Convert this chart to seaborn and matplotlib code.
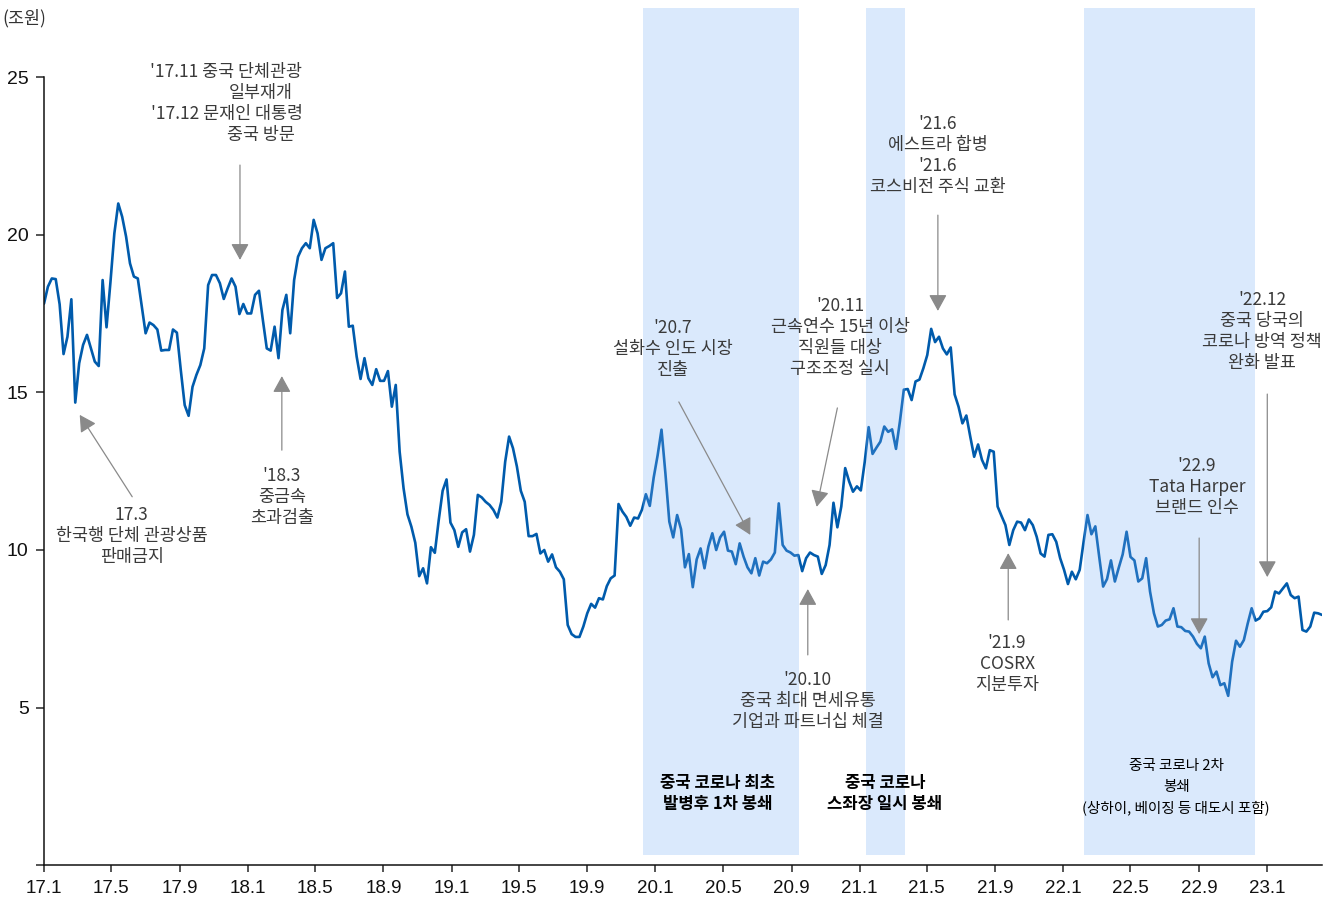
import matplotlib
matplotlib.use("Agg")
import matplotlib.pyplot as plt
import pandas as pd
import seaborn as sns

# Weekly series, 조원
values = [
    17.82, 18.36, 18.62, 18.60, 17.80, 16.22, 16.77, 17.96, 14.68, 15.93,
    16.51, 16.83, 16.40, 15.98, 15.84, 18.57, 17.07, 18.50, 20.05, 21.00,
    20.58, 19.95, 19.10, 18.68, 18.62, 17.75, 16.88, 17.22, 17.14, 17.00,
    16.33, 16.35, 16.35, 17.00, 16.90, 15.71, 14.60, 14.26, 15.18, 15.56,
    15.87, 16.40, 18.41, 18.73, 18.73, 18.47, 17.97, 18.31, 18.62, 18.36,
    17.49, 17.81, 17.51, 17.51, 18.10, 18.23, 17.30, 16.40, 16.33, 17.09,
    16.09, 17.62, 18.10, 16.88, 18.57, 19.31, 19.58, 19.74, 19.58, 20.48,
    20.05, 19.21, 19.58, 19.65, 19.74, 18.00, 18.15, 18.84, 17.09, 17.12,
    16.14, 15.43, 16.09, 15.45, 15.24, 15.74, 15.37, 15.37, 15.68, 14.55,
    15.24, 13.12, 11.96, 11.13, 10.74, 10.23, 9.17, 9.42, 8.94, 10.09,
    9.91, 10.95, 11.88, 12.24, 10.87, 10.63, 10.10, 10.56, 10.66, 9.95,
    10.48, 11.75, 11.67, 11.53, 11.43, 11.27, 11.03, 11.53, 12.80, 13.60,
    13.23, 12.65, 11.88, 11.53, 10.44, 10.44, 10.51, 9.89, 10.00, 9.63,
    9.86, 9.45, 9.31, 9.07, 7.62, 7.33, 7.24, 7.24, 7.57, 7.99,
    8.29, 8.17, 8.47, 8.43, 8.85, 9.10, 9.19, 11.46, 11.22, 11.05,
    10.77, 11.03, 11.00, 11.28, 11.77, 11.40, 12.30, 13.00, 13.82, 12.43,
    10.90, 10.40, 11.11, 10.66, 9.45, 9.87, 8.82, 9.70, 10.05, 9.42,
    10.11, 10.53, 10.00, 10.40, 10.58, 9.98, 9.95, 9.55, 10.21, 9.79,
    9.45, 9.26, 9.74, 9.19, 9.63, 9.58, 9.70, 9.92, 11.48, 10.16,
    9.98, 9.92, 9.82, 9.84, 9.33, 9.74, 9.92, 9.84, 9.79, 9.24,
    9.52, 10.16, 11.50, 10.72, 11.38, 12.60, 12.18, 11.85, 12.02, 11.89,
    12.80, 13.90, 13.05, 13.25, 13.44, 13.92, 13.75, 13.83, 13.21, 14.08,
    15.09, 15.11, 14.76, 15.35, 15.41, 15.77, 16.19, 17.02, 16.60, 16.77,
    16.40, 16.21, 16.43, 14.94, 14.55, 14.02, 14.27, 13.60, 12.96, 13.35,
    12.86, 12.59, 13.17, 13.12, 11.38, 11.08, 10.79, 10.16, 10.63, 10.90,
    10.87, 10.63, 10.97, 10.79, 10.42, 9.89, 9.79, 10.48, 10.50, 10.26,
    9.74, 9.37, 8.92, 9.31, 9.07, 9.37, 10.26, 11.11, 10.50, 10.75,
    9.78, 8.84, 9.08, 9.67, 9.00, 9.44, 9.86, 10.58, 9.78, 9.67,
    9.00, 9.10, 9.74, 8.68, 7.99, 7.57, 7.62, 7.76, 7.80, 8.15,
    7.57, 7.55, 7.43, 7.41, 7.25, 7.02, 6.88, 7.25, 6.40, 5.96,
    6.14, 5.71, 5.77, 5.37, 6.45, 7.12, 6.93, 7.14, 7.67, 8.15,
    7.76, 7.83, 8.04, 8.06, 8.18, 8.68, 8.62, 8.78, 8.94, 8.57,
    8.47, 8.52, 7.46, 7.41, 7.57, 8.01, 7.99, 7.94,
]
start_date = "2017-01-01"

x_tick_labels = ["17.1", "17.5", "17.9", "18.1", "18.5", "18.9", "19.1",
                 "19.5", "19.9", "20.1", "20.5", "20.9", "21.1", "21.5",
                 "21.9", "22.1", "22.5", "22.9", "23.1"]
y_ticks = [0, 5, 10, 15, 20, 25]

# Lockdown periods
band_starts = ["2019-12-10", "2021-01-12", "2022-02-07"]
band_ends = ["2020-09-15", "2021-03-23", "2022-12-10"]
band_texts = [
    ["중국 코로나 최초", "발병후 1차 봉쇄"],
    ["중국 코로나", "스좌장 일시 봉쇄"],
    ["중국 코로나 2차", "봉쇄", "(상하이, 베이징 등 대도시 포함)"],
]

# Event notes: text lines, arrow tail, arrow head
events = [
    (["'17.11 중국 단체관광", "일부재개", "'17.12 문재인 대통령", "중국 방문"],
     ("2017-12-18", 22.22), ("2017-12-18", 19.21)),
    (["17.3", "한국행 단체 관광상품", "판매금지"],
     ("2017-06-08", 11.69), ("2017-03-06", 14.29)),
    (["'18.3", "중금속", "초과검출"],
     ("2018-03-03", 13.17), ("2018-03-03", 15.52)),
    (["'20.7", "설화수 인도 시장", "진출"],
     ("2020-02-12", 14.70), ("2020-06-19", 10.48)),
    (["'20.11", "근속연수 15년 이상", "직원들 대상", "구조조정 실시"],
     ("2020-11-22", 14.51), ("2020-10-16", 11.37)),
    (["'20.10", "중국 최대 면세유통", "기업과 파트너십 체결"],
     ("2020-09-30", 6.67), ("2020-09-30", 8.76)),
    (["'21.6", "에스트라 합병", "'21.6", "코스비전 주식 교환"],
     ("2021-05-21", 20.63), ("2021-05-21", 17.59)),
    (["'21.9", "COSRX", "지분투자"],
     ("2021-09-24", 7.78), ("2021-09-24", 9.90)),
    (["'22.9", "Tata Harper", "브랜드 인수"],
     ("2022-09-01", 10.38), ("2022-09-01", 7.33)),
    (["'22.12", "중국 당국의", "코로나 방역 정책", "완화 발표"],
     ("2023-01-01", 14.95), ("2023-01-01", 9.14)),
]

# ---------------------------------------------------------------- layout
W, H = 1330, 902
PX_PER_UNIT = 31.5           # vertical pixels per 1 조원
AX_LEFT, AX_RIGHT, AX_BOTTOM = 44, 1322, 865

sns.set_style("ticks")
KR = "Noto Sans CJK KR"
NUM = ["Liberation Sans", "DejaVu Sans"]
plt.rcParams["font.family"] = [KR, "DejaVu Sans"]

fig = plt.figure(figsize=(W / 100, H / 100), dpi=100)
ax = fig.add_axes([AX_LEFT / W, (H - AX_BOTTOM) / H,
                   (AX_RIGHT - AX_LEFT) / W, AX_BOTTOM / H])

dates = pd.date_range(start_date, periods=len(values), freq="7D")
df = pd.DataFrame({"date": dates, "value": values})

LINE = "#005BAC"
sns.lineplot(data=df, x="date", y="value", color=LINE, linewidth=1.9,
             ax=ax, zorder=2)

# translucent bands laid over the line
for s, e in zip(band_starts, band_ends):
    ax.axvspan(pd.Timestamp(s), pd.Timestamp(e), ymin=10 / AX_BOTTOM,
               ymax=857 / AX_BOTTOM, color="#78AFF5", alpha=0.27, lw=0,
               zorder=3)

ax.set_xlim(dates[0], dates[-1])
ax.set_ylim(0, AX_BOTTOM / PX_PER_UNIT)

tick_dates = [pd.Timestamp(2000 + int(l.split(".")[0]), int(l.split(".")[1]), 1)
              for l in x_tick_labels]
ax.set_xticks(tick_dates)
ax.set_xticklabels(x_tick_labels, family=NUM, fontsize=13.5, color="#111111")
ax.set_yticks(y_ticks)
ax.set_yticklabels(["" if v == 0 else str(v) for v in y_ticks],
                   family=NUM, fontsize=14, color="#111111")
ax.tick_params(axis="x", length=5, width=1.1, pad=6, direction="out")
ax.tick_params(axis="y", length=6, width=1.1, pad=5, direction="out")
ax.set_xlabel("")
ax.set_ylabel("")

for side in ("top", "right"):
    ax.spines[side].set_visible(False)
for side in ("left", "bottom"):
    ax.spines[side].set_linewidth(1.1)
    ax.spines[side].set_color("#111111")
ax.spines["left"].set_bounds(0, y_ticks[-1])

fig.text(2 / W, 1 - 18 / H, "(조원)", ha="left", va="center",
         fontsize=12.5, color="#333333", family=[KR, "DejaVu Sans"])

# ---------------------------------------------------------------- notes
LINE_GAP = 21 / PX_PER_UNIT   # spacing between text lines in value units
TXT = "#3a3a3a"
ARROW = "#8a8a8a"

# text block anchors: (centre date, value of first line), per-line x offsets in days
note_anchor = [
    ("2017-11-23", 25.17, [0, 62, 2, 63]),
    ("2017-06-07", 11.11, [0, 0, 0]),
    ("2018-03-03", 12.35, [0, 0, 0]),
    ("2020-02-01", 17.05, [0, 0, 0]),
    ("2020-11-27", 17.75, [0, 0, 0, 0]),
    ("2020-09-30", 5.87, [0, 0, 0]),
    ("2021-05-21", 23.52, [0, 0, 0, 0]),
    ("2021-09-22", 7.05, [0, 0, 0]),
    ("2022-08-28", 12.67, [0, 0, 0]),
    ("2022-12-23", 17.94, [0, 0, 0, 0]),
]

for (lines, tail, head), (cx, y0, offs) in zip(events, note_anchor):
    for i, (txt, off) in enumerate(zip(lines, offs)):
        ax.text(pd.Timestamp(cx) + pd.Timedelta(days=off), y0 - i * LINE_GAP,
                txt, ha="center", va="center", fontsize=12.5, color=TXT,
                family=[KR, "DejaVu Sans"], zorder=5)
    ax.annotate("", xy=(pd.Timestamp(head[0]), head[1]),
                xytext=(pd.Timestamp(tail[0]), tail[1]),
                arrowprops=dict(arrowstyle="-|>,head_length=1.0,head_width=0.55",
                                mutation_scale=10, color=ARROW, lw=0.9,
                                shrinkA=0, shrinkB=0),
                zorder=5)

band_anchor = [("2020-04-22", 2.60, 12, "bold"),
               ("2021-02-15", 2.60, 12, "bold"),
               ("2022-07-22", 3.14, 10.5, "normal")]
for lines, (cx, y0, fs, wt) in zip(band_texts, band_anchor):
    for i, txt in enumerate(lines):
        ax.text(pd.Timestamp(cx), y0 - i * LINE_GAP, txt, ha="center",
                va="center", fontsize=fs, fontweight=wt, color="#000000",
                family=[KR, "DejaVu Sans"], zorder=5)

fig.savefig("out.png", dpi=100)
